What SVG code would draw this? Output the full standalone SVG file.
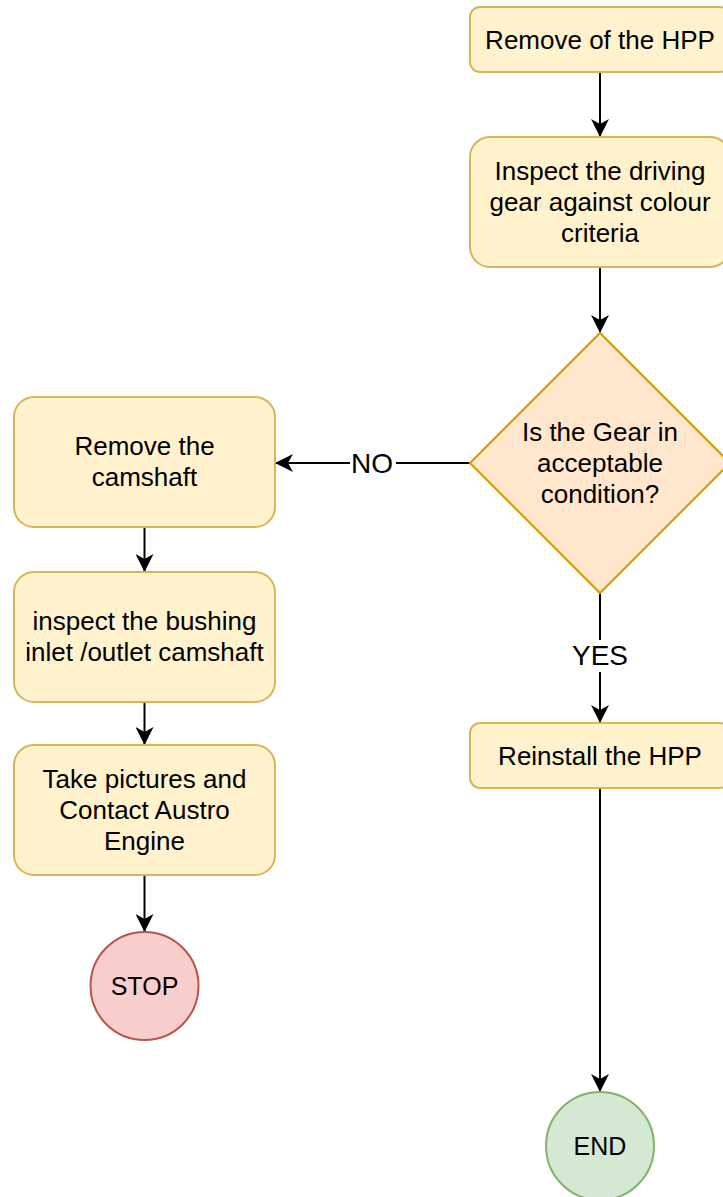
<svg xmlns="http://www.w3.org/2000/svg" width="723" height="1197" viewBox="0 0 723 1197">
<defs>
<marker id="arr" viewBox="0 0 18 18" refX="18" refY="9" markerWidth="18" markerHeight="18" markerUnits="userSpaceOnUse" orient="auto">
<path d="M0,0 L18,9 L0,18 L5,9 Z" fill="#000"/>
</marker>
<style>
.proc{fill:#fff2cc;stroke:#d6b656;stroke-width:2}
.dec{fill:#ffe6cc;stroke:#d79b00;stroke-width:2}
.stop{fill:#f8cecc;stroke:#b85450;stroke-width:2}
.end{fill:#d5e8d4;stroke:#82b366;stroke-width:2}
.t{font-family:"Liberation Sans",Arial,sans-serif;font-size:26px;fill:#000;text-anchor:middle}
.c{font-size:25px}
.lbl{font-family:"Liberation Sans",Arial,sans-serif;font-size:28px;fill:#000;text-anchor:middle}
.e{fill:none;stroke:#000;stroke-width:2}
</style>
</defs>
<g id="connectors">
<path class="e" d="M600,72 L600,137" marker-end="url(#arr)"/>
<path class="e" d="M600,267 L600,333" marker-end="url(#arr)"/>
<path class="e" d="M470,463 L275,463" marker-end="url(#arr)"/>
<rect x="350" y="448" width="46" height="30" fill="#fff"/>
<text class="lbl" x="372" y="473">NO</text>
<path class="e" d="M600,593 L600,723" marker-end="url(#arr)"/>
<rect x="569" y="640" width="62" height="32" fill="#fff"/>
<text class="lbl" x="600" y="665">YES</text>
<path class="e" d="M144.5,527 L144.5,572" marker-end="url(#arr)"/>
<path class="e" d="M144.5,702 L144.5,745" marker-end="url(#arr)"/>
<path class="e" d="M144.5,875 L144.5,932" marker-end="url(#arr)"/>
<path class="e" d="M600,788 L600,1092" marker-end="url(#arr)"/>
</g>
<g id="n1">
<rect class="proc" x="470" y="7" width="260" height="65" rx="10"/>
<text class="t" x="600" y="49">Remove of the HPP</text>
</g>
<g id="n2">
<rect class="proc" x="470" y="137" width="260" height="130" rx="20"/>
<text class="t" x="600" y="180">Inspect the driving</text>
<text class="t" x="600" y="211">gear against colour</text>
<text class="t" x="600" y="242">criteria</text>
</g>
<g id="n3">
<path class="dec" d="M600,333 L730,463 L600,593 L470,463 Z"/>
<text class="t" x="600" y="441">Is the Gear in</text>
<text class="t" x="600" y="472">acceptable</text>
<text class="t" x="600" y="503">condition?</text>
</g>
<g id="n4">
<rect class="proc" x="14" y="397" width="261" height="130" rx="20"/>
<text class="t" x="144.5" y="455">Remove the</text>
<text class="t" x="144.5" y="486">camshaft</text>
</g>
<g id="n5">
<rect class="proc" x="14" y="572" width="261" height="130" rx="20"/>
<text class="t" x="144.5" y="630">inspect the bushing</text>
<text class="t" x="144.5" y="661">inlet /outlet camshaft</text>
</g>
<g id="n6">
<rect class="proc" x="14" y="745" width="261" height="130" rx="20"/>
<text class="t" x="144.5" y="788">Take pictures and</text>
<text class="t" x="144.5" y="819">Contact Austro</text>
<text class="t" x="144.5" y="850">Engine</text>
</g>
<g id="n7">
<circle class="stop" cx="144.5" cy="986" r="54"/>
<text class="t c" x="144.5" y="995">STOP</text>
</g>
<g id="n8">
<rect class="proc" x="470" y="723" width="260" height="65" rx="10"/>
<text class="t" x="600" y="765">Reinstall the HPP</text>
</g>
<g id="n9">
<circle class="end" cx="600" cy="1146" r="54"/>
<text class="t c" x="600" y="1155">END</text>
</g>
</svg>
